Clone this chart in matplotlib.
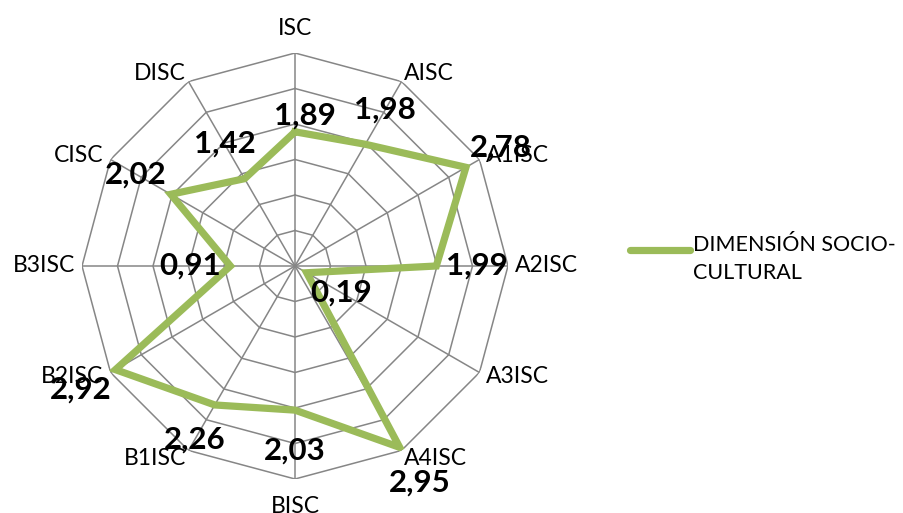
import numpy as np
import matplotlib.pyplot as plt
from matplotlib.lines import Line2D

categorias = ['ISC', 'AISC', 'A1ISC', 'A2ISC', 'A3ISC', 'A4ISC',
              'BISC', 'B1ISC', 'B2ISC', 'B3ISC', 'CISC', 'DISC']
valores = [1.89, 1.98, 2.78, 1.99, 0.19, 2.95,
           2.03, 2.26, 2.92, 0.91, 2.02, 1.42]
etiquetas = ['1,89', '1,98', '2,78', '1,99', '0,19', '2,95',
             '2,03', '2,26', '2,92', '0,91', '2,02', '1,42']
niveles = [0.5, 1.0, 1.5, 2.0, 2.5, 3.0]
serie = 'DIMENSIÓN SOCIO-\nCULTURAL'

verde = '#9BBB59'
gris = '#868686'

plt.rcParams['font.family'] = ['Lato', 'DejaVu Sans']

fig = plt.figure(figsize=(9.04, 5.13), dpi=100)
W, H = 904, 513
cx, cy, R = 295, 266, 213
ax = fig.add_axes([(cx - R) / W, (H - cy - R) / H, 2 * R / W, 2 * R / H],
                  projection='polar')
ax.set_theta_offset(np.pi / 2)
ax.set_theta_direction(-1)
ax.set_ylim(0, 3)
ax.grid(False)
ax.spines['polar'].set_visible(False)
ax.set_xticks([])
ax.set_yticks([])

n = len(categorias)
ang = np.linspace(0, 2 * np.pi, n, endpoint=False)
ang_c = np.append(ang, ang[0])

# rejilla poligonal
for nv in niveles:
    ax.plot(ang_c, [nv] * (n + 1), color=gris, lw=1.1, zorder=1)
for a in ang:
    ax.plot([a, a], [0, niveles[-1]], color=gris, lw=1.1, zorder=1)

# serie
ax.plot(ang_c, valores + valores[:1], color=verde, lw=5.2,
        solid_joinstyle='miter', zorder=3)

# etiquetas de categorias
for a, c in zip(ang, categorias):
    s, co = np.sin(a), np.cos(a)
    ha = 'left' if s > 0.01 else ('right' if s < -0.01 else 'center')
    if abs(co) > 0.99:
        va = 'bottom' if co > 0 else 'top'
        dx, dy = 0, (10 if co > 0 else -12)
    elif abs(co) > 0.6:
        va = 'bottom' if co > 0 else 'top'
        dx, dy = 2 * np.sign(s), -2 * np.sign(co)
    else:
        va = 'center'
        dx, dy = 5 * np.sign(s), 6 * co
    ax.annotate(c, xy=(a, 3), xytext=(dx, dy), textcoords='offset points',
                ha=ha, va=va, fontsize=16.5, color='black',
                annotation_clip=False)

# etiquetas de datos
for i, (a, v, t) in enumerate(zip(ang, valores, etiquetas)):
    d = 29
    dx, dy = d * np.sin(a), d * np.cos(a)
    if i == 0:
        dx, dy = 7, 12
    ax.annotate(t, xy=(a, v), xytext=(dx, dy), textcoords='offset points',
                ha='center', va='center', fontsize=22.5, fontweight='bold',
                color='black', zorder=5, annotation_clip=False)

# leyenda
fig.add_artist(Line2D([630 / W, 690 / W], [1 - 250 / H, 1 - 250 / H],
                      color=verde, lw=5.2, solid_capstyle='round'))
fig.text(693 / W, 1 - 235 / H, serie, ha='left', va='top',
         fontsize=15.5, linespacing=1.5)

fig.savefig('out.png', dpi=100, facecolor='white')
